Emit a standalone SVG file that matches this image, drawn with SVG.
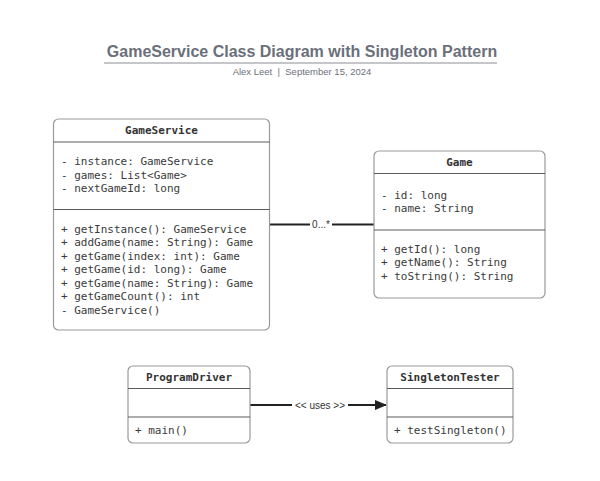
<svg xmlns="http://www.w3.org/2000/svg" width="600" height="481" viewBox="0 0 600 481">
<style>
.box{fill:#fff;stroke:#9a9a9a;stroke-width:1.2}
.div{stroke:#5a5a5a;stroke-width:1}
.hd{font-family:"DejaVu Sans Mono","Liberation Mono",monospace;font-weight:bold;font-size:11px;fill:#333;text-anchor:middle}
.mb{font-family:"DejaVu Sans Mono","Liberation Mono",monospace;font-size:11px;fill:#3a3a3a}
.lbl{font-family:"Liberation Sans",Arial,sans-serif;font-size:10px;fill:#333;text-anchor:middle}
.conn{stroke:#222;stroke-width:2;fill:none}
</style>
<defs>
<marker id="arr" markerWidth="12" markerHeight="10" refX="11" refY="5" orient="auto" markerUnits="userSpaceOnUse">
<path d="M0,0 L12,5 L0,10 Z" fill="#222"/>
</marker>
</defs>
<rect width="600" height="481" fill="#fff"/>
<g id="title">
<text x="302" y="57" text-anchor="middle" font-family="Liberation Sans,Arial,sans-serif" font-weight="bold" font-size="16px" fill="#6b6f7a">GameService Class Diagram with Singleton Pattern</text>
<line x1="104" y1="63" x2="497" y2="63" stroke="#8a8d94" stroke-width="1"/>
<text x="302" y="75" text-anchor="middle" font-family="Liberation Sans,Arial,sans-serif" font-size="9.5px" fill="#6b6f7a" xml:space="preserve">Alex Leet  |  September 15, 2024</text>
</g>
<g id="connectors">
<line class="conn" x1="269" y1="224.5" x2="310" y2="224.5"/>
<line class="conn" x1="332" y1="224.5" x2="374" y2="224.5"/>
<text class="lbl" x="321" y="228">0...*</text>
<line class="conn" x1="250" y1="405" x2="292" y2="405"/>
<line class="conn" x1="348" y1="405" x2="386" y2="405" marker-end="url(#arr)"/>
<text class="lbl" x="320" y="408.5">&lt;&lt; uses &gt;&gt;</text>
</g>
<g id="GameService">
<rect class="box" x="53.5" y="119" width="216" height="211" rx="5"/>
<line class="div" x1="53.5" y1="142" x2="269.5" y2="142"/>
<line class="div" x1="53.5" y1="209.5" x2="269.5" y2="209.5"/>
<text class="hd" x="161.5" y="134">GameService</text>
<text class="mb" x="61" y="165">- instance: GameService</text>
<text class="mb" x="61" y="178.5">- games: List&lt;Game&gt;</text>
<text class="mb" x="61" y="192">- nextGameId: long</text>
<text class="mb" x="61" y="232.5">+ getInstance(): GameService</text>
<text class="mb" x="61" y="246">+ addGame(name: String): Game</text>
<text class="mb" x="61" y="259.5">+ getGame(index: int): Game</text>
<text class="mb" x="61" y="273">+ getGame(id: long): Game</text>
<text class="mb" x="61" y="286.5">+ getGame(name: String): Game</text>
<text class="mb" x="61" y="300">+ getGameCount(): int</text>
<text class="mb" x="61" y="313.5">- GameService()</text>
</g>
<g id="Game">
<rect class="box" x="374" y="151" width="171" height="147" rx="5"/>
<line class="div" x1="374" y1="173.5" x2="545" y2="173.5"/>
<line class="div" x1="374" y1="230" x2="545" y2="230"/>
<text class="hd" x="459.5" y="166">Game</text>
<text class="mb" x="381" y="198.5">- id: long</text>
<text class="mb" x="381" y="212">- name: String</text>
<text class="mb" x="381" y="252.5">+ getId(): long</text>
<text class="mb" x="381" y="266">+ getName(): String</text>
<text class="mb" x="381" y="279.5">+ toString(): String</text>
</g>
<g id="ProgramDriver">
<rect class="box" x="128" y="366" width="122" height="77" rx="5"/>
<line class="div" x1="128" y1="388.5" x2="250" y2="388.5"/>
<line class="div" x1="128" y1="417" x2="250" y2="417"/>
<text class="hd" x="189" y="381">ProgramDriver</text>
<text class="mb" x="135" y="434">+ main()</text>
</g>
<g id="SingletonTester">
<rect class="box" x="387" y="366" width="126" height="77" rx="5"/>
<line class="div" x1="387" y1="388.5" x2="513" y2="388.5"/>
<line class="div" x1="387" y1="417" x2="513" y2="417"/>
<text class="hd" x="450" y="381">SingletonTester</text>
<text class="mb" x="394" y="434">+ testSingleton()</text>
</g>
</svg>
